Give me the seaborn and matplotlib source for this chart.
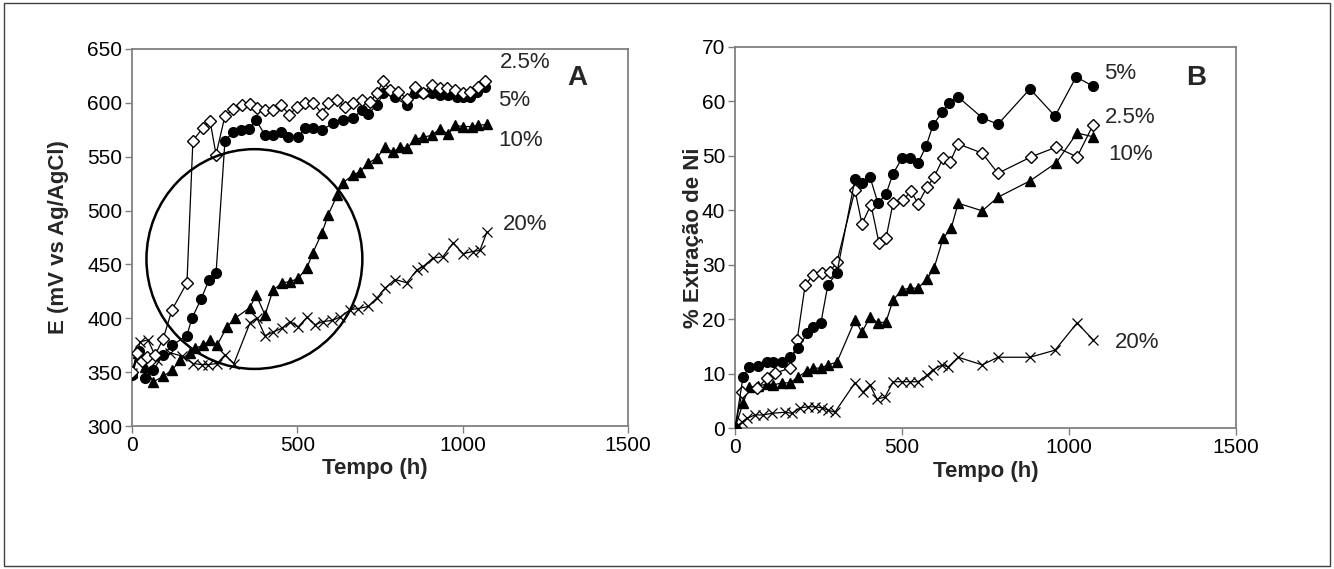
import matplotlib
matplotlib.use("Agg")
import matplotlib.pyplot as plt
from matplotlib.patches import Ellipse, Rectangle
import seaborn as sns

# ---- panel A: potential vs time ----
a_t_25 = [0, 15, 30, 45, 70, 94, 121, 166, 184, 215, 236, 254, 281, 306, 332, 357, 378, 402, 427, 451, 475,
          499, 523, 548, 574, 594, 619, 644, 669, 694, 720, 740, 760, 780, 805, 831, 856, 881, 906, 931,
          951, 977, 1002, 1022, 1047, 1067]
a_e_25 = [350, 368, 360, 364, 366, 381, 408, 433, 565, 577, 583, 552, 588, 594, 598, 599, 595, 593, 593, 598, 589,
          596, 600, 600, 590, 600, 603, 596, 600, 603, 601, 609, 620, 612, 610, 604, 615, 609, 617, 614,
          614, 612, 609, 610, 615, 620]

a_t_5 = [0, 21, 39, 64, 94, 121, 166, 181, 209, 233, 254, 281, 306, 330, 354, 375, 402, 426, 451, 472, 502,
         523, 547, 575, 608, 638, 668, 695, 714, 741, 760, 795, 831, 856, 880, 907, 931, 956, 983, 1001,
         1022, 1043, 1067]
a_e_5 = [347, 370, 345, 352, 366, 375, 384, 400, 418, 436, 442, 565, 573, 575, 576, 584, 570, 570, 573, 568, 568,
         577, 577, 575, 581, 584, 586, 593, 590, 598, 609, 605, 598, 609, 609, 609, 607, 607, 605, 605,
         605, 610, 615]

a_t_10 = [0, 18, 39, 64, 94, 121, 145, 175, 190, 215, 236, 257, 287, 311, 357, 375, 402, 426, 454, 478, 502,
          529, 547, 574, 593, 620, 638, 668, 689, 714, 741, 765, 789, 810, 832, 856, 880, 907, 931, 956,
          977, 1001, 1028, 1046, 1073]
a_e_10 = [350, 368, 355, 341, 346, 352, 361, 368, 372, 375, 380, 375, 392, 400, 410, 422, 403, 426, 433, 434, 437,
          447, 461, 479, 496, 514, 526, 533, 536, 544, 549, 559, 554, 559, 558, 566, 568, 570, 576, 571,
          579, 578, 578, 579, 580]

a_t_20 = [0, 24, 48, 76, 115, 150, 185, 212, 230, 257, 281, 308, 357, 378, 402, 426, 454, 478, 502, 529,
          553, 578, 605, 629, 659, 683, 714, 741, 765, 795, 831, 862, 880, 910, 940, 971, 1001, 1031, 1052, 1073]
a_e_20 = [349, 378, 380, 361, 368, 365, 358, 357, 357, 358, 366, 358, 396, 400, 384, 387, 391, 397, 392, 401,
          394, 397, 398, 401, 408, 409, 411, 419, 428, 436, 433, 445, 448, 456, 457, 470, 460, 462, 463, 480]

# ---- panel B: % Ni extraction vs time ----
b_t_5 = [0, 24, 42, 69, 96, 114, 141, 165, 189, 216, 234, 257, 278, 305, 359, 380, 404, 428, 452, 473, 500,
         524, 548, 572, 593, 620, 641, 668, 740, 787, 883, 958, 1021, 1072]
b_p_5 = [0, 9.4, 11.2, 11.4, 12.1, 12.1, 12.1, 13.0, 14.7, 17.4, 18.6, 19.3, 26.3, 28.5, 45.7, 45.0, 46.1, 41.3,
         43.0, 46.7, 49.6, 49.6, 48.7, 51.8, 55.7, 58.0, 59.7, 60.8, 57.0, 55.8, 62.3, 57.3, 64.5, 62.8]

b_t_25 = [0, 21, 66, 96, 120, 165, 186, 210, 234, 260, 284, 305, 359, 380, 407, 431, 452, 473, 503, 527,
          548, 575, 596, 623, 644, 668, 740, 787, 886, 961, 1024, 1072]
b_p_25 = [0, 6.6, 7.3, 9.2, 10.1, 11.0, 16.2, 26.3, 28.1, 28.5, 28.7, 30.5, 43.7, 37.5, 41.0, 34.0, 34.9, 41.3,
          41.9, 43.5, 41.2, 44.3, 46.1, 49.6, 48.9, 52.2, 50.5, 46.8, 49.8, 51.6, 49.8, 55.7]

b_t_10 = [0, 24, 42, 69, 96, 114, 141, 165, 189, 216, 234, 257, 278, 305, 359, 380, 404, 428, 452, 473, 500,
          524, 548, 575, 596, 623, 647, 668, 740, 787, 883, 961, 1024, 1072]
b_p_10 = [0, 4.6, 7.5, 7.7, 8.1, 7.9, 8.3, 8.3, 9.4, 10.5, 11.0, 11.0, 11.6, 12.1, 19.8, 17.6, 20.4, 19.3,
          19.5, 23.5, 25.4, 25.7, 25.7, 27.4, 29.4, 34.9, 36.7, 41.3, 39.9, 42.4, 45.4, 48.7, 54.2, 53.5]

b_t_20 = [0, 21, 36, 60, 84, 111, 150, 171, 195, 219, 240, 260, 278, 299, 359, 383, 404, 425, 449, 473, 500,
          524, 548, 575, 593, 620, 638, 668, 740, 787, 883, 958, 1024, 1072]
b_p_20 = [0, 1.1, 1.8, 2.4, 2.4, 2.7, 2.9, 2.7, 3.7, 3.9, 3.9, 3.7, 3.3, 2.9, 8.3, 6.6, 7.9, 5.3, 5.7, 8.5,
          8.5, 8.5, 8.5, 9.7, 10.7, 11.6, 11.2, 13.0, 11.6, 13.0, 13.0, 14.3, 19.3, 16.2]

x_ticks = [0, 500, 1000, 1500]
a_yticks = [300, 350, 400, 450, 500, 550, 600, 650]
b_yticks = [0, 10, 20, 30, 40, 50, 60, 70]

sns.set_style("white")
plt.rcParams["font.family"] = ["Liberation Sans", "DejaVu Sans"]

# marker style per concentration
styles = {
    "2.5%": dict(marker="D", ms=6, mfc="white", mec="black", mew=1.0),
    "5%": dict(marker="o", ms=7, mfc="black", mec="black", mew=1.0),
    "10%": dict(marker="^", ms=7.5, mfc="black", mec="black", mew=1.0),
    "20%": dict(marker="x", ms=7, mfc="black", mec="black", mew=0.9),
}


def draw(ax, t, v, key):
    sns.lineplot(x=t, y=v, ax=ax, sort=False, estimator=None, color="black",
                 lw=0.9, zorder=3, **styles[key])


def style_axes(ax, yticks):
    ax.set_xlim(0, 1500)
    ax.set_ylim(yticks[0], yticks[-1])
    ax.set_xticks(x_ticks)
    ax.set_yticks(yticks)
    for s in ax.spines.values():
        s.set_color("#808080")
        s.set_linewidth(1.3)
    ax.tick_params(axis="both", which="both", direction="out", length=5, width=1,
                   color="#808080", labelsize=15, labelcolor="black", pad=2,
                   bottom=True, left=True)
    ax.set_xlabel("Tempo (h)", fontsize=16, fontweight="bold")


fig = plt.figure(figsize=(13.34, 5.69), dpi=100)
axA = fig.add_axes([0.0990, 0.2513, 0.3718, 0.6626])
axB = fig.add_axes([0.5510, 0.2478, 0.3756, 0.6696])

draw(axA, a_t_20, a_e_20, "20%")
draw(axA, a_t_10, a_e_10, "10%")
draw(axA, a_t_5, a_e_5, "5%")
draw(axA, a_t_25, a_e_25, "2.5%")
style_axes(axA, a_yticks)
axA.set_ylabel("E (mV vs Ag/AgCl)", fontsize=16, fontweight="bold")
axA.xaxis.set_label_coords(0.49, -0.085)
axA.yaxis.set_label_coords(-0.128, 0.5)

# highlight circle around the potential jump
circle_center = (370, 455)
circle_w, circle_h = 653, 204
axA.add_patch(Ellipse(circle_center, circle_w, circle_h, fill=False, ec="black", lw=1.8, zorder=4))

draw(axB, b_t_20, b_p_20, "20%")
draw(axB, b_t_10, b_p_10, "10%")
draw(axB, b_t_25, b_p_25, "2.5%")
draw(axB, b_t_5, b_p_5, "5%")
style_axes(axB, b_yticks)
axB.set_ylabel("% Extração de Ni", fontsize=16, fontweight="bold")
axB.xaxis.set_label_coords(0.5, -0.087)
axB.yaxis.set_label_coords(-0.062, 0.5)

lab_kw = dict(fontsize=16, va="center", ha="left", clip_on=False)
axA.text(1113, 637, "2.5%", **lab_kw)
axA.text(1107, 602, "5%", **lab_kw)
axA.text(1107, 565, "10%", **lab_kw)
axA.text(1122, 487, "20%", **lab_kw)
axA.text(1315, 623, "A", fontsize=20, fontweight="bold", va="center", ha="left")

axB.text(1105, 65.2, "5%", **lab_kw)
axB.text(1108, 57.0, "2.5%", **lab_kw)
axB.text(1117, 50.2, "10%", **lab_kw)
axB.text(1138, 15.8, "20%", **lab_kw)
axB.text(1350, 64.3, "B", fontsize=20, fontweight="bold", va="center", ha="left")

for ax in (axA, axB):
    leg = ax.get_legend()
    if leg:
        leg.remove()

# outer frame of the figure
fig.patches.append(Rectangle((0.003, 0.005), 0.994, 0.99, transform=fig.transFigure,
                             fill=False, ec="#404040", lw=1.0))

fig.savefig("out.png", dpi=100)
